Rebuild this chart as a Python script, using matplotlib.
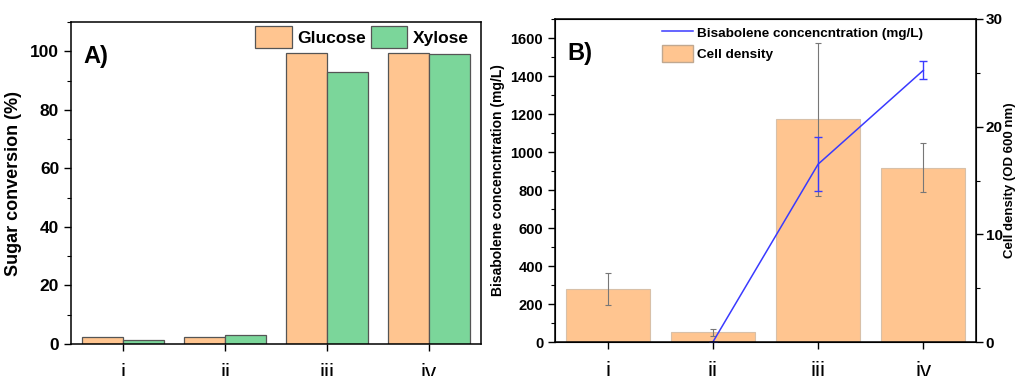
import numpy as np
import matplotlib
matplotlib.use("Agg")
import matplotlib.pyplot as plt
from matplotlib.ticker import MultipleLocator
from matplotlib.lines import Line2D
from matplotlib.patches import Patch

plt.rcParams['font.family'] = ['Liberation Sans', 'DejaVu Sans']

categories = ['i', 'ii', 'iii', 'iv']
glucose = [2.5, 2.3, 99.5, 99.3]
xylose = [1.5, 3.0, 93.0, 99.0]

cell_density = [4.9, 0.9, 20.7, 16.2]
cell_density_err = [1.5, 0.3, 7.1, 2.3]
bisabolene = [np.nan, 0, 936, 1430]
bisabolene_err = [0, 0, 143, 47]

ORANGE = '#FFC590'
GREEN = '#7BD69A'
BLUE = '#3a3aff'

fig = plt.figure(figsize=(10.15, 3.76), dpi=100)

# Panel A
axA = fig.add_axes([71/1015, 1-344/376, 410/1015, 322/376])
x = np.arange(len(categories))
w = 0.4
axA.bar(x - w/2, glucose, w, color=ORANGE, edgecolor='#555555', linewidth=0.9, label='Glucose')
axA.bar(x + w/2, xylose, w, color=GREEN, edgecolor='#555555', linewidth=0.9, label='Xylose')
axA.set_xlim(-0.51, 3.51)
axA.set_ylim(0, 110)
axA.yaxis.set_major_locator(MultipleLocator(20))
axA.yaxis.set_minor_locator(MultipleLocator(10))
axA.set_xticks(x)
axA.set_xticklabels(categories, fontsize=16)
axA.tick_params(axis='x', length=5, width=1, pad=9)
axA.tick_params(axis='y', which='major', length=5, width=1, labelsize=12.5)
axA.tick_params(axis='y', which='minor', length=3, width=0.8)
for lbl in axA.get_yticklabels():
    lbl.set_fontweight('bold')
axA.set_ylabel('Sugar conversion (%)', fontsize=13, fontweight='bold', labelpad=6)
axA.text(0.03, 0.93, 'A)', transform=axA.transAxes, fontsize=17, fontweight='bold', va='top')
axA.legend(loc='upper right', ncol=2, frameon=False, prop={'weight': 'bold', 'size': 12.5},
           bbox_to_anchor=(0.995, 1.02), handlelength=2.1, handleheight=1.6,
           columnspacing=0.3, handletextpad=0.3, borderaxespad=0.2)
for s in axA.spines.values():
    s.set_linewidth(1.1)

# Panel B
axB = fig.add_axes([555/1015, 1-342/376, 421/1015, 323/376])
axR = axB.twinx()
axR.bar(x, cell_density, 0.8, color=ORANGE, edgecolor='#d8c0a8', linewidth=0.8,
        yerr=cell_density_err, ecolor='#777777', capsize=2.5, error_kw={'elinewidth': 0.8, 'capthick': 0.8})
axR.set_ylim(0, 30)
axB.set_zorder(axR.get_zorder() + 1)
axB.patch.set_visible(False)
axB.errorbar(x, bisabolene, yerr=bisabolene_err, color=BLUE, lw=1.1, capsize=3,
             elinewidth=1, capthick=1)
axB.set_xlim(-0.5, 3.5)
axB.set_ylim(0, 1700)
axB.yaxis.set_major_locator(MultipleLocator(200))
axB.yaxis.set_minor_locator(MultipleLocator(100))
axR.yaxis.set_major_locator(MultipleLocator(10))
axR.yaxis.set_minor_locator(MultipleLocator(5))
axB.set_xticks(x)
axB.set_xticklabels(categories, fontsize=16)
axB.tick_params(axis='x', length=5, width=1, pad=9)
axB.tick_params(axis='y', which='major', length=5, width=1, labelsize=10.5)
axB.tick_params(axis='y', which='minor', length=3, width=0.8)
axR.tick_params(axis='y', which='major', length=5, width=1, labelsize=11, pad=2)
axR.tick_params(axis='y', which='minor', length=3, width=0.8)
for lbl in axB.get_yticklabels() + axR.get_yticklabels():
    lbl.set_fontweight('bold')
axB.set_ylabel('Bisabolene concencntration (mg/L)', fontsize=10, fontweight='bold', labelpad=4)
axR.set_ylabel('Cell density (OD 600 nm)', fontsize=9.5, fontweight='bold', labelpad=1)
axB.text(0.03, 0.93, 'B)', transform=axB.transAxes, fontsize=17, fontweight='bold', va='top')
handles = [Line2D([0], [0], color=BLUE, lw=1.1),
           Patch(facecolor=ORANGE, edgecolor='#c0a890')]
axB.legend(handles, ['Bisabolene concencntration (mg/L)', 'Cell density'],
           loc='upper left', bbox_to_anchor=(0.225, 1.02), frameon=False,
           prop={'weight': 'bold', 'size': 9.7}, handlelength=2.3, handleheight=1.5,
           handletextpad=0.3, labelspacing=0.3)
for s in axB.spines.values():
    s.set_linewidth(1.1)

fig.savefig('out.png', dpi=100)
